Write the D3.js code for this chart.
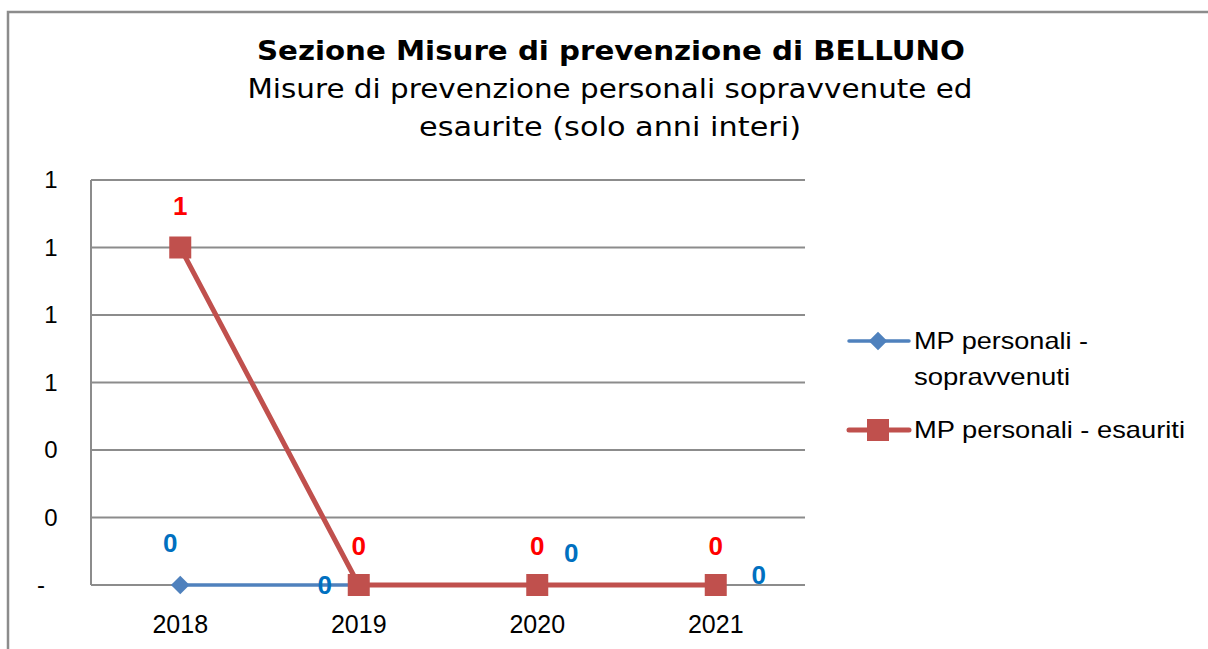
<!DOCTYPE html>
<html lang='it'>

<head>
    <meta charset='utf-8'>
    <title>Sezione Misure di prevenzione di BELLUNO</title>
    <style>
        body {
            margin: 0;
            background-color: white;
        }

        svg {
            display: block;
        }
    </style>
    <script src='https://d3js.org/d3.v7.min.js' charset='utf-8'></script>
</head>

<body>
    <div id='placeholder'></div>
    <script type="text/javascript">
        const WIDTH = 1208;
        const HEIGHT = 649;

        // data
        var years = ['2018', '2019', '2020', '2021'];
        var sopravvenuti = [0, 0, 0, 0];
        var esauriti = [1, 0, 0, 0];
        var yTicks = [0, 0.2, 0.4, 0.6, 0.8, 1, 1.2];
        var seriesNames = ['MP personali - sopravvenuti', 'MP personali - esauriti'];

        // blue labels sit in odd spots in the original, offsets from the point
        var blueLabelOffset = [[-10, -42], [-34, 0], [34, -32], [43, -10]];

        var margin = { left: 91, right: 805, top: 180, bottom: 585 };

        var svg = d3.select('#placeholder')
            .append('svg')
            .attr('width', WIDTH)
            .attr('height', HEIGHT);

        // chart frame
        svg.append('path')
            .attr('d', 'M8,' + HEIGHT + ' L8,12 L' + WIDTH + ',12')
            .attr('fill', 'none')
            .attr('stroke', '#8c8c8c')
            .attr('stroke-width', 2.5);

        // titles
        svg.append('text')
            .text('Sezione Misure di prevenzione di BELLUNO')
            .attr('x', 611)
            .attr('y', 60)
            .attr('text-anchor', 'middle')
            .attr('font-family', 'DejaVu Sans')
            .attr('font-weight', 'bold')
            .attr('font-size', '26px')
            .attr('textLength', 708)
            .attr('lengthAdjust', 'spacingAndGlyphs')
            .attr('fill', 'black');

        svg.selectAll('.sub')
            .data(['Misure di prevenzione personali sopravvenute ed', 'esaurite (solo anni interi)'])
            .enter()
            .append('text')
            .attr('class', 'sub')
            .text(function (d) { return d; })
            .attr('x', 610)
            .attr('y', function (d, i) { return 98 + i * 38; })
            .attr('text-anchor', 'middle')
            .attr('font-family', 'DejaVu Sans')
            .attr('font-size', '26px')
            .attr('textLength', function (d, i) { return i === 0 ? 725 : 382; })
            .attr('lengthAdjust', 'spacingAndGlyphs')
            .attr('fill', 'black');

        var x = d3.scaleBand()
            .domain(years)
            .range([margin.left, margin.right]);

        var y = d3.scaleLinear()
            .domain([0, 1.2])
            .range([margin.bottom, margin.top]);

        // gridlines
        svg.selectAll('.grid')
            .data(yTicks)
            .enter()
            .append('line')
            .attr('x1', margin.left)
            .attr('x2', margin.right)
            .attr('y1', function (d) { return y(d); })
            .attr('y2', function (d) { return y(d); })
            .attr('stroke', '#8c8c8c')
            .attr('stroke-width', 2);

        svg.append('line')
            .attr('x1', margin.left)
            .attr('x2', margin.left)
            .attr('y1', margin.top)
            .attr('y2', margin.bottom)
            .attr('stroke', '#8c8c8c')
            .attr('stroke-width', 2);

        // y labels, excel rounds them to integers and shows '-' for zero
        svg.selectAll('.ylab')
            .data(yTicks)
            .enter()
            .append('text')
            .text(function (d) { return d === 0 ? '-' : d3.format('.0f')(d); })
            .attr('x', function (d) { return d === 0 ? 41 : 51; })
            .attr('y', function (d) { return y(d); })
            .attr('dy', '0.35em')
            .attr('text-anchor', 'middle')
            .attr('font-family', 'Liberation Sans')
            .attr('font-size', '24px')
            .attr('fill', 'black');

        // x labels
        svg.selectAll('.xlab')
            .data(years)
            .enter()
            .append('text')
            .text(function (d) { return d; })
            .attr('x', function (d) { return x(d) + x.bandwidth() / 2; })
            .attr('y', 633)
            .attr('text-anchor', 'middle')
            .attr('font-family', 'Liberation Sans')
            .attr('font-size', '25px')
            .attr('fill', 'black');

        var cx = function (d, i) { return x(years[i]) + x.bandwidth() / 2; };

        var line = d3.line()
            .x(cx)
            .y(function (d) { return y(d); });

        // blue series
        svg.append('path')
            .datum(sopravvenuti)
            .attr('d', line)
            .attr('fill', 'none')
            .attr('stroke', '#4F81BD')
            .attr('stroke-width', 3.5);

        svg.selectAll('.blue')
            .data(sopravvenuti)
            .enter()
            .append('path')
            .attr('d', d3.symbol().type(d3.symbolDiamond2).size(220))
            .attr('transform', function (d, i) { return 'translate(' + cx(d, i) + ',' + y(d) + ')'; })
            .attr('fill', '#4F81BD');

        // red series
        svg.append('path')
            .datum(esauriti)
            .attr('d', line)
            .attr('fill', 'none')
            .attr('stroke', '#C0504D')
            .attr('stroke-width', 5);

        svg.selectAll('.red')
            .data(esauriti)
            .enter()
            .append('rect')
            .attr('x', function (d, i) { return cx(d, i) - 11; })
            .attr('y', function (d) { return y(d) - 11; })
            .attr('width', 22)
            .attr('height', 22)
            .attr('fill', '#C0504D');

        // data labels
        svg.selectAll('.redlab')
            .data(esauriti)
            .enter()
            .append('text')
            .text(function (d) { return d; })
            .attr('x', cx)
            .attr('y', function (d) { return y(d) - (d > 0 ? 42 : 39); })
            .attr('dy', '0.35em')
            .attr('text-anchor', 'middle')
            .attr('font-family', 'Liberation Sans')
            .attr('font-weight', 'bold')
            .attr('font-size', '26px')
            .attr('fill', '#FF0000');

        svg.selectAll('.bluelab')
            .data(sopravvenuti)
            .enter()
            .append('text')
            .text(function (d) { return d; })
            .attr('x', function (d, i) { return cx(d, i) + blueLabelOffset[i][0]; })
            .attr('y', function (d, i) { return y(d) + blueLabelOffset[i][1]; })
            .attr('dy', '0.35em')
            .attr('text-anchor', 'middle')
            .attr('font-family', 'Liberation Sans')
            .attr('font-weight', 'bold')
            .attr('font-size', '26px')
            .attr('fill', '#0070C0');

        // legend
        var legend = svg.append('g');
        var legendY = [341, 430];
        var legendColor = ['#4F81BD', '#C0504D'];
        var legendWidths = { 'MP personali -': 174, 'sopravvenuti': 156, 'MP personali - esauriti': 271 };

        legend.selectAll('.lline')
            .data(seriesNames)
            .enter()
            .append('line')
            .attr('x1', 849)
            .attr('x2', 909)
            .attr('y1', function (d, i) { return legendY[i]; })
            .attr('y2', function (d, i) { return legendY[i]; })
            .attr('stroke', function (d, i) { return legendColor[i]; })
            .attr('stroke-width', function (d, i) { return i === 0 ? 3.5 : 5; })
            .attr('stroke-linecap', 'round');

        legend.append('path')
            .attr('d', d3.symbol().type(d3.symbolDiamond2).size(220))
            .attr('transform', 'translate(878,' + legendY[0] + ')')
            .attr('fill', legendColor[0]);

        legend.append('rect')
            .attr('x', 867)
            .attr('y', legendY[1] - 11)
            .attr('width', 22)
            .attr('height', 22)
            .attr('fill', legendColor[1]);

        var legendText = legend.selectAll('.ltext')
            .data([['MP personali -', 'sopravvenuti'], ['MP personali - esauriti']])
            .enter()
            .append('text')
            .attr('font-family', 'Liberation Sans')
            .attr('font-size', '24px')
            .attr('fill', 'black');

        legendText.selectAll('tspan')
            .data(function (d, i) { return d.map(function (t) { return { t: t, i: i }; }); })
            .enter()
            .append('tspan')
            .text(function (d) { return d.t; })
            .attr('x', 914)
            .attr('y', function (d, j) { return legendY[d.i] + 8 + j * 36; })
            .attr('textLength', function (d) { return legendWidths[d.t]; })
            .attr('lengthAdjust', 'spacingAndGlyphs');
    </script>
</body>

</html>
